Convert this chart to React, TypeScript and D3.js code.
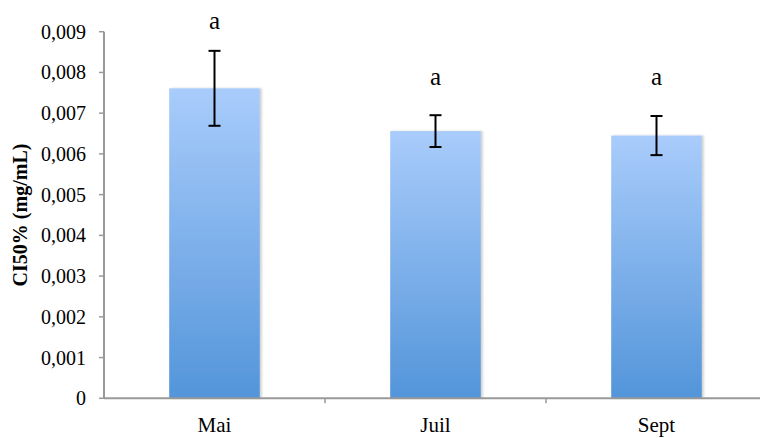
import React from "react";
import * as d3 from "d3";

const categories = ["Mai", "Juil", "Sept"];
const means = [0.00761, 0.00656, 0.00645];
const errors = [0.00092, 0.00039, 0.00048];
const letters = ["a", "a", "a"];
const letterPos = [0.00907, 0.00769, 0.00769];
const yTicks = [0, 0.001, 0.002, 0.003, 0.004, 0.005, 0.006, 0.007, 0.008, 0.009];

const W = 760;
const H = 438;
const left = 104;
const top = 31.7;
const bottom = 398.3;
const step = 221;

export default function App() {
  const x = d3.scaleBand<string>().domain(categories).range([left, left + step * categories.length]).padding(0);
  const y = d3.scaleLinear().domain([0, 0.009]).range([bottom, top]);
  const bw = x.bandwidth() * 0.41;
  const fmt = (v: number) => (v === 0 ? "0" : d3.format(".3f")(v).replace(".", ","));
  const font = "Times New Roman, Liberation Serif, Tinos, DejaVu Serif, serif";
  const axisColor = "#999999";
  return (
    <svg width={W} height={H} style={{ position: "absolute", left: 0, top: 0 }}>
      <defs>
        <linearGradient id="barGrad" x1="0" y1="0" x2="0" y2="1">
          <stop offset="0%" stopColor="#A9CCFB" />
          <stop offset="100%" stopColor="#5395DA" />
        </linearGradient>
        <filter id="shadow" x="-10%" y="-10%" width="130%" height="120%">
          <feDropShadow dx="2" dy="0" stdDeviation="1.2" floodColor="#000" floodOpacity="0.18" />
        </filter>
      </defs>
      {categories.map((c, i) => {
        const cx = (x(c) as number) + x.bandwidth() / 2;
        return (
          <rect key={c} x={cx - bw / 2} y={y(means[i])} width={bw} height={bottom - y(means[i])}
            fill="url(#barGrad)" filter="url(#shadow)" />
        );
      })}
      {categories.map((c, i) => {
        const cx = (x(c) as number) + x.bandwidth() / 2;
        const hi = y(means[i] + errors[i]);
        const lo = y(means[i] - errors[i]);
        return (
          <g key={c} stroke="#000" strokeWidth={2}>
            <line x1={cx} x2={cx} y1={hi} y2={lo} />
            <line x1={cx - 6} x2={cx + 6} y1={hi} y2={hi} />
            <line x1={cx - 6} x2={cx + 6} y1={lo} y2={lo} />
          </g>
        );
      })}
      {categories.map((c, i) => {
        const cx = (x(c) as number) + x.bandwidth() / 2;
        return (
          <text key={c} x={cx} y={y(letterPos[i])} textAnchor="middle" style={{ fontFamily: font }} fontSize={25} fill="#000">
            {letters[i]}
          </text>
        );
      })}
      <line x1={left} x2={left} y1={top} y2={bottom} stroke={axisColor} strokeWidth={2} />
      {yTicks.map((t) => (
        <g key={t}>
          <line x1={left - 5} x2={left} y1={y(t)} y2={y(t)} stroke={axisColor} strokeWidth={1.5} />
          <text x={86} y={y(t)} dy="0.35em" textAnchor="end" style={{ fontFamily: font }} fontSize={20} fill="#000">
            {fmt(t)}
          </text>
        </g>
      ))}
      <line x1={left} x2={W} y1={bottom} y2={bottom} stroke={axisColor} strokeWidth={2} />
      {categories.slice(1).map((c) => (
        <line key={c} x1={x(c) as number} x2={x(c) as number} y1={bottom} y2={bottom + 5} stroke={axisColor} strokeWidth={1.5} />
      ))}
      {categories.map((c) => (
        <text key={c} x={(x(c) as number) + x.bandwidth() / 2} y={432} textAnchor="middle" style={{ fontFamily: font }} fontSize={21} fill="#000">
          {c}
        </text>
      ))}
      <text transform={`translate(27,${(top + bottom) / 2}) rotate(-90)`} textAnchor="middle" style={{ fontFamily: font }}
        fontSize={20} fontWeight="bold" fill="#000">
        CI50% (mg/mL)
      </text>
    </svg>
  );
}
